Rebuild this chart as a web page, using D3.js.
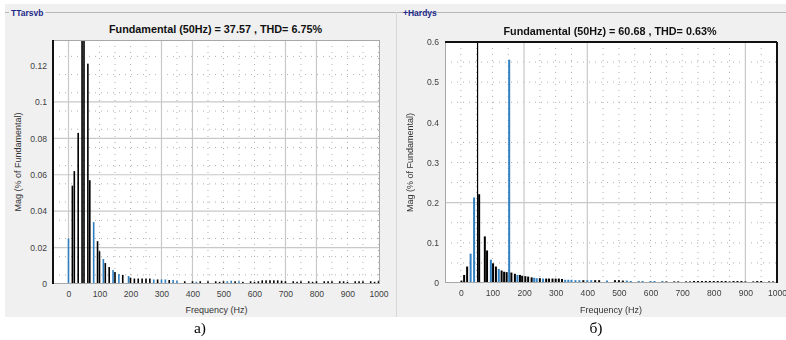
<!DOCTYPE html>
<html>
<head>
<meta charset="utf-8">
<script src="https://cdn.jsdelivr.net/npm/d3@7"></script>
<style>
body{margin:0;background:#fff}
svg{display:block;font-family:"Liberation Sans",Arial,sans-serif;filter:blur(0.25px)}
</style>
</head>
<body>
<div id="chart"></div>
<script>
// ---- panel a) spectrum ----
const freqA = [0, 12.5, 18.75, 31.25, 43.75, 50, 62.5, 68.75, 81.25, 93.75, 100, 112.5, 118.75, 131.25, 143.75, 150, 162.5, 175, 193.75, 200];
const magA = [0.025, 0.054, 0.062, 0.083, 0.2, 0.2, 0.121, 0.057, 0.034, 0.0235, 0.018, 0.0137, 0.0115, 0.0093, 0.0077, 0.0066, 0.0055, 0.005, 0.0044, 0.0035];
const colA = "bkkkkkkkbkkbkkbkbkbk";
// high-frequency tail, one bin every 12.5 Hz from 212.5 Hz
const tailAStart = 212.5, tailAStep = 12.5;
const tailAMag = [
  0.003, 0.003, 0.003, 0.003, 0.003, 0.0025, 0.0025, 0.0025,
  0.0025, 0.0022, 0.0022, 0.0018, 0, 0.0015, 0, 0.0015,
  0.0012, 0.0015, 0, 0.0015, 0, 0.0015, 0.0012, 0.0015,
  0.0015, 0.0018, 0.0015, 0.0015, 0.0012, 0, 0.0015, 0.0012,
  0.0015, 0.002, 0.002, 0.002, 0.002, 0.002, 0.0018, 0.0015,
  0, 0.0015, 0.0012, 0.0015, 0, 0.0015, 0.0012, 0.0015,
  0, 0.0015, 0.0015, 0.0015, 0, 0.0015, 0.0015, 0.0012,
  0, 0.0015, 0.0015, 0.0015, 0, 0.0015, 0.0012, 0.0015];
const tailACol = "kkkkkbkb" + "bkbbkkkk" + "bkkkkkkk" + "bbkbkkkk" + "kkkkkkkk" + "kkkkkkkk" + "kkkkkkkk" + "kkkkkkkk";

// ---- panel b) spectrum ----
const freqB = [2, 10.5, 20, 31, 42, 53, 58, 76, 83, 95, 102, 111, 120, 129, 137, 145, 153, 160, 171, 179, 187, 194, 204, 213, 224, 232, 240, 250, 260, 270, 279, 290, 300, 310, 320, 330, 340, 350];
const magB = [0.006, 0.02, 0.041, 0.073, 0.213, 1.0, 0.221, 0.116, 0.081, 0.058, 0.049, 0.041, 0.035, 0.031, 0.028, 0.027, 0.556, 0.026, 0.023, 0.02, 0.02, 0.018, 0.017, 0.016, 0.014, 0.013, 0.012, 0.012, 0.011, 0.011, 0.011, 0.011, 0.011, 0.011, 0.010, 0.008, 0.008, 0.008];
const colB = "kkkbb" + "kkkkb" + "kkbkk" + "kbkkb" + "kkkkk" + "bbkbk" + "kkkkk" + "bbb";
const tailBStart = 362.5, tailBStep = 12.5;
const tailBMag = [
  0.007, 0.007, 0.007, 0.007, 0.007, 0.007, 0.007, 0,
  0.006, 0, 0.007, 0.007, 0.006, 0.006, 0.005, 0,
  0.005, 0.005, 0, 0.005, 0.005, 0, 0.005, 0.004,
  0, 0.004, 0.004, 0, 0.004, 0.004, 0.005, 0.005,
  0.005, 0.005, 0.005, 0.005, 0.005, 0.005, 0.005, 0.004,
  0.005, 0.005, 0.005, 0.004, 0, 0.004, 0.005, 0.005,
  0, 0.004, 0.004, 0.004];
const tailBCol = "bbkbbkkk" + "bkkkkbbk" + "bbkbbkbk" + "kkkkkkkk" + "kkkkkkkk" + "kkkkkkkk" + "kkkk";

const ticksX = [0, 100, 200, 300, 400, 500, 600, 700, 800, 900, 1000];
const ticksYA = [0, 0.02, 0.04, 0.06, 0.08, 0.1, 0.12];
const ticksYB = [0, 0.1, 0.2, 0.3, 0.4, 0.5, 0.6];

const W = 786, H = 340;
const BLUE = "#2f7fc1";

const svg = d3.select("#chart").append("svg").attr("width", W).attr("height", H);

// window background + panel frames
svg.append("rect").attr("x", 5).attr("y", 4).attr("width", W - 5).attr("height", 313).attr("fill", "#f0f0f0");
svg.append("line").attr("x1", 396.5).attr("x2", 396.5).attr("y1", 12).attr("y2", 317).attr("stroke", "#d8d8d8");

function panelTitle(x0, x1, txt){
    svg.append("line").attr("x1", x0).attr("x2", x1).attr("y1", 12.5).attr("y2", 12.5).attr("stroke", "#b8b8b8");
    const t = svg.append("text").attr("x", x0 + 6).attr("y", 15.5)
        .attr("font-size", 8.5).attr("font-weight", "bold").attr("fill", "#1d2a8a").text(txt);
    const bb = t.node().getBBox();
    svg.insert("rect", "text").attr("x", bb.x - 2).attr("y", 8).attr("width", bb.width + 4).attr("height", 9).attr("fill", "#f0f0f0");
}
panelTitle(5, 396, "TTarsvb");
panelTitle(397, W, "+Hardys");

function expand(freqs, mags, cols, tStart, tStep, tMags, tCols){
    const bars = freqs.map((f, i) => ({f: f, v: mags[i], c: cols[i]}));
    tMags.forEach((v, i) => bars.push({f: tStart + i * tStep, v: v, c: tCols[i]}));
    return bars.filter(d => d.v > 0);
}

function drawPanel(cfg){
    const x = d3.scaleLinear().domain([-50, cfg.xmax]).range([cfg.left, cfg.right]);
    const y = d3.scaleLinear().domain([0, cfg.ymax]).range([cfg.bottom, cfg.top]);
    const g = svg.append("g");

    g.append("rect").attr("x", cfg.left).attr("y", cfg.top)
        .attr("width", cfg.right - cfg.left).attr("height", cfg.bottom - cfg.top).attr("fill", "#fff");

    const clipId = "clip" + cfg.id;
    svg.append("clipPath").attr("id", clipId).append("rect")
        .attr("x", cfg.left).attr("y", cfg.top).attr("width", cfg.right - cfg.left).attr("height", cfg.bottom - cfg.top);

    // dotted minor grid
    const minorX = d3.range(0, 1001, 50).filter(v => !cfg.solidX.includes(v));
    g.selectAll(".mx").data(minorX).join("line")
        .attr("x1", d => x(d)).attr("x2", d => x(d)).attr("y1", cfg.top).attr("y2", cfg.bottom)
        .attr("stroke", "#9a9a9a").attr("stroke-dasharray", "1,5").attr("stroke-width", 0.8);
    g.selectAll(".my").data(cfg.minorY).join("line")
        .attr("x1", cfg.left).attr("x2", cfg.right).attr("y1", d => y(d)).attr("y2", d => y(d))
        .attr("stroke", "#9a9a9a").attr("stroke-dasharray", "1,5").attr("stroke-width", 0.8);
    // solid major grid
    g.selectAll(".sx").data(cfg.solidX).join("line")
        .attr("x1", d => x(d)).attr("x2", d => x(d)).attr("y1", cfg.top).attr("y2", cfg.bottom)
        .attr("stroke", "#c8c8c8").attr("stroke-width", 1.2);
    g.selectAll(".sy").data(cfg.solidY).join("line")
        .attr("x1", cfg.left).attr("x2", cfg.right).attr("y1", d => y(d)).attr("y2", d => y(d))
        .attr("stroke", "#c8c8c8").attr("stroke-width", 1.2);

    // bars
    g.append("g").attr("clip-path", `url(#${clipId})`)
        .selectAll("rect").data(cfg.bars).join("rect")
        .attr("x", d => x(d.f) - (d.f === cfg.fund ? 0.6 : cfg.bw / 2))
        .attr("width", d => d.f === cfg.fund ? 1.2 : cfg.bw)
        .attr("y", d => y(d.v))
        .attr("height", d => y(0) - y(d.v))
        .attr("fill", d => d.c === "b" ? BLUE : "#000");

    // plot box
    g.append("rect").attr("x", cfg.left + 0.5).attr("y", cfg.top + 0.5)
        .attr("width", cfg.right - cfg.left - 1).attr("height", cfg.bottom - cfg.top - 1)
        .attr("fill", "none").attr("stroke", "#a8a8a8");
    cfg.heavy.forEach(s => {
        const p = {left: [cfg.left, cfg.top, cfg.left, cfg.bottom], right: [cfg.right, cfg.top, cfg.right, cfg.bottom],
                   top: [cfg.left, cfg.top, cfg.right, cfg.top]}[s];
        g.append("line").attr("x1", p[0]).attr("y1", p[1]).attr("x2", p[2]).attr("y2", p[3])
            .attr("stroke", "#111").attr("stroke-width", 2);
    });

    // axes
    const xAxis = d3.axisBottom(x).tickValues(ticksX).tickSize(0).tickPadding(7).tickFormat(d3.format("d"));
    const xa = g.append("g").attr("transform", `translate(0,${cfg.bottom})`).call(xAxis);
    const yAxis = d3.axisLeft(y).tickValues(cfg.ticksY).tickSize(0).tickPadding(6).tickFormat(d => String(d));
    const ya = g.append("g").attr("transform", `translate(${cfg.left},0)`).call(yAxis);
    [xa, ya].forEach(a => {
        a.select(".domain").remove();
        a.selectAll("text").attr("font-size", 8.6).attr("fill", "#404040").attr("font-family", "Liberation Sans, Arial, sans-serif");
    });

    g.append("text").attr("x", (cfg.left + cfg.right) / 2 + cfg.titleDx).attr("y", cfg.top - 7)
        .attr("text-anchor", "middle").attr("font-size", 10.8).attr("font-weight", "bold").attr("fill", "#111")
        .text(cfg.title);
    g.append("text").attr("x", (cfg.left + cfg.right) / 2).attr("y", 313)
        .attr("text-anchor", "middle").attr("font-size", 9).attr("fill", "#333").text("Frequency (Hz)");
    g.append("text").attr("transform", `translate(${cfg.left - 32},${(cfg.top + cfg.bottom) / 2}) rotate(-90)`)
        .attr("text-anchor", "middle").attr("font-size", 9).attr("fill", "#333").text("Mag (% of Fundamental)");

    svg.append("text").attr("x", cfg.capX).attr("y", 333).attr("text-anchor", "middle")
        .attr("font-family", "Liberation Serif, Times New Roman, serif").attr("font-size", 15.5).attr("fill", "#000")
        .text(cfg.caption);
}

drawPanel({
    id: "a", left: 53, right: 380, top: 40, bottom: 284, xmax: 1005, ymax: 0.134,
    ticksY: ticksYA, solidX: [0, 300, 400, 700, 800], solidY: [0.02, 0.04, 0.06, 0.08, 0.1],
    minorY: d3.range(0.005, 0.134, 0.01), bw: 1.6, fund: null, heavy: ["left"], titleDx: -1,
    bars: expand(freqA, magA, colA, tailAStart, tailAStep, tailAMag, tailACol),
    title: "Fundamental (50Hz) = 37.57 , THD= 6.75%", capX: 200, caption: "а)"
});
drawPanel({
    id: "b", left: 445, right: 777, top: 42, bottom: 283, xmax: 1000, ymax: 0.6,
    ticksY: ticksYB, solidX: [200, 400, 900], solidY: [0.2],
    minorY: [0.05, 0.1, 0.15, 0.25, 0.3, 0.35, 0.45, 0.5, 0.55], bw: 2, fund: 53, heavy: ["top", "right"], titleDx: -1,
    bars: expand(freqB, magB, colB, tailBStart, tailBStep, tailBMag, tailBCol),
    title: "Fundamental (50Hz) = 60.68 , THD= 0.63%", capX: 596, caption: "б)"
});
</script>
</body>
</html>
